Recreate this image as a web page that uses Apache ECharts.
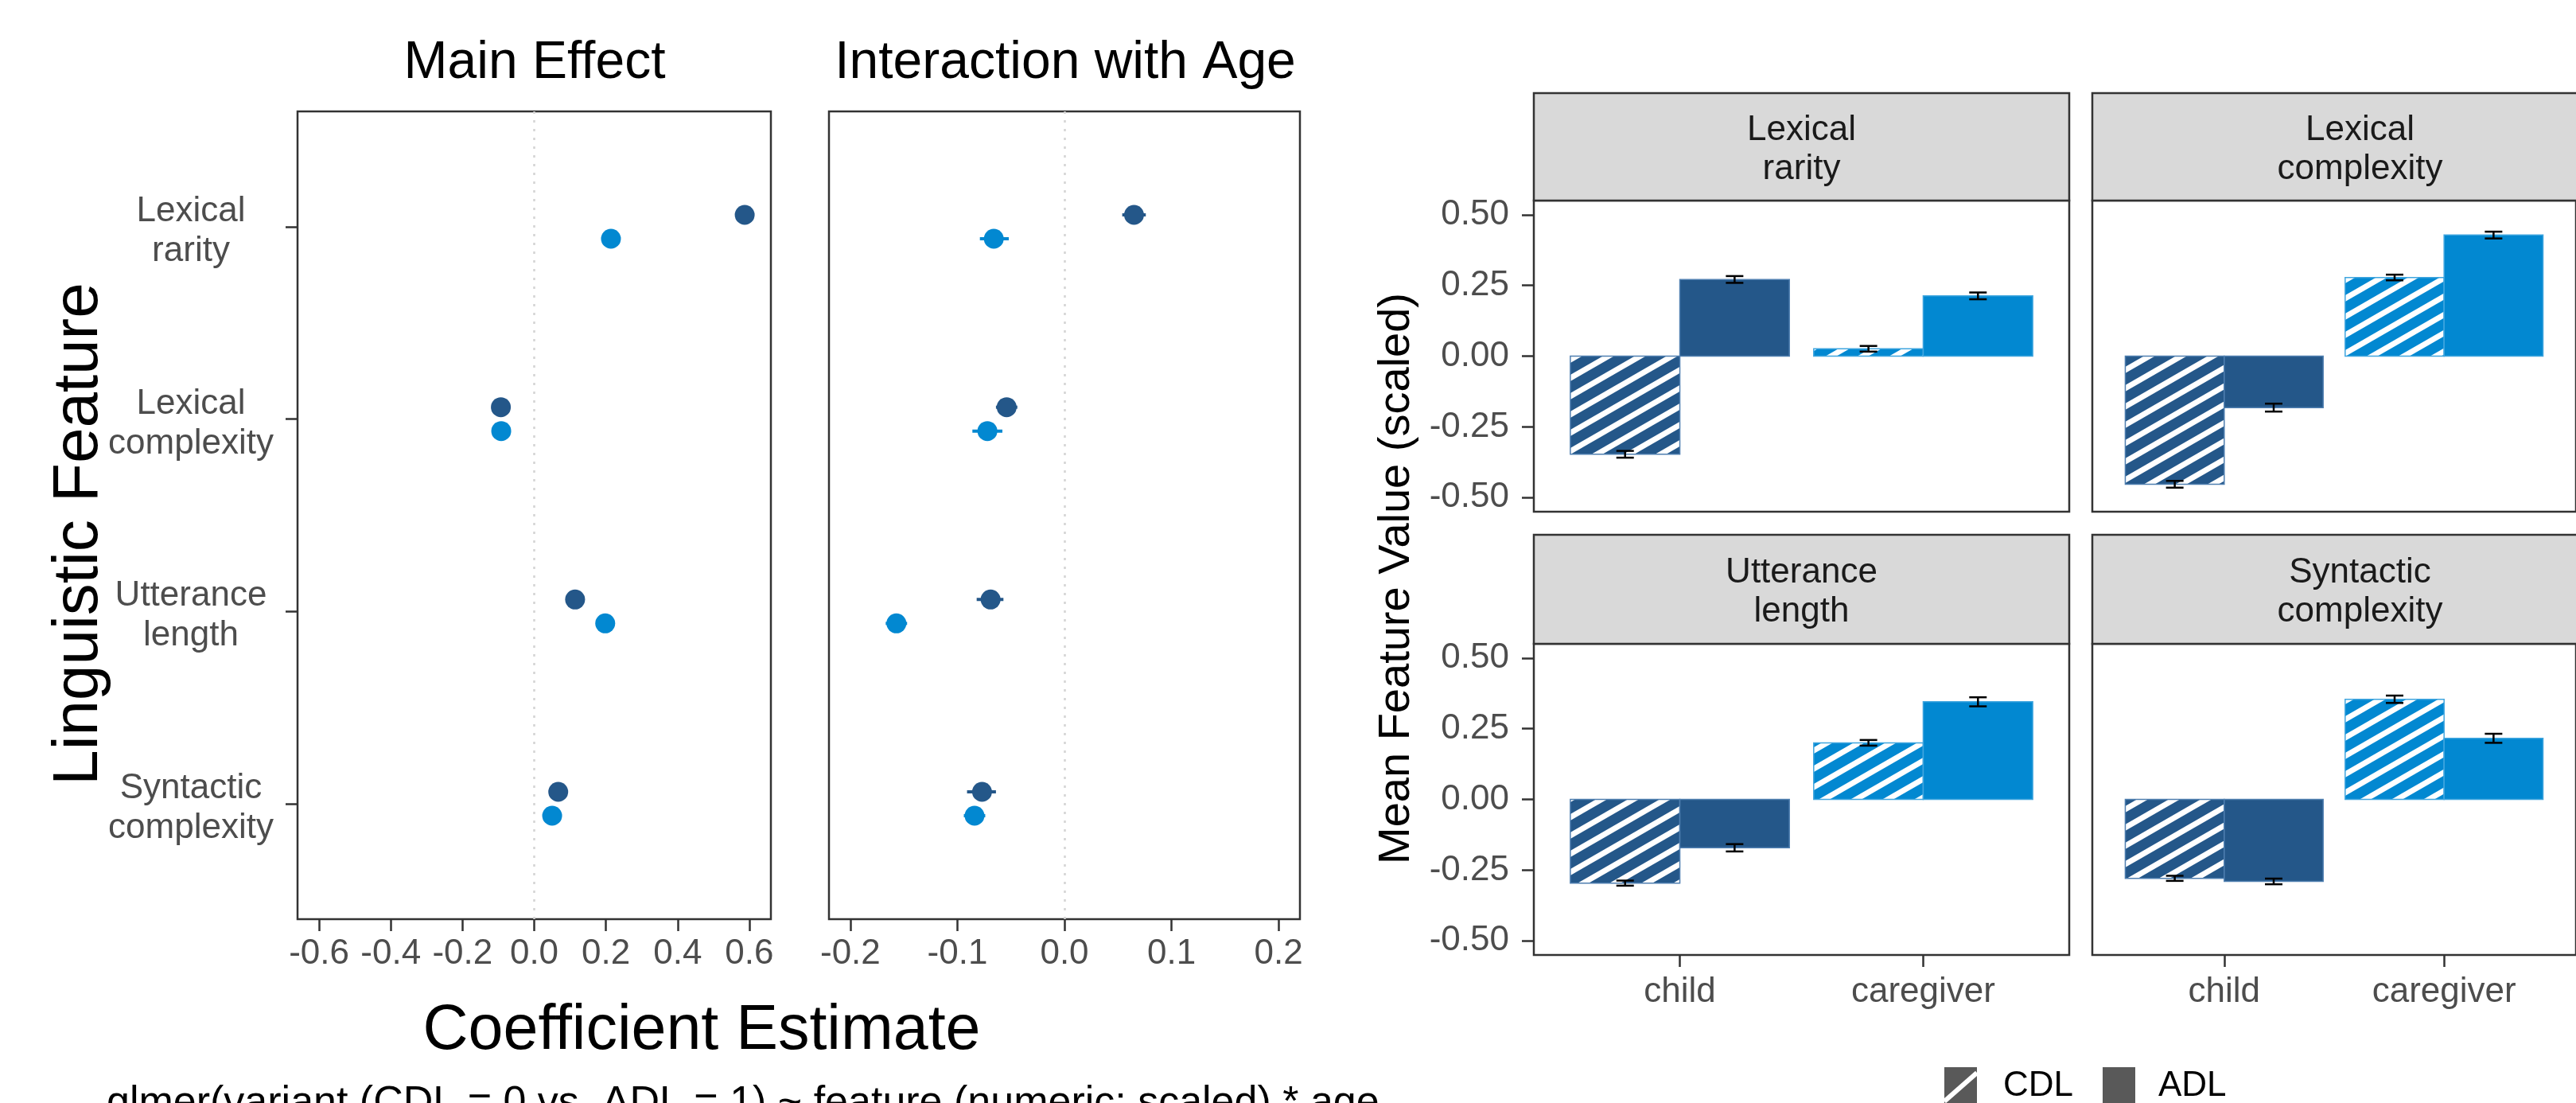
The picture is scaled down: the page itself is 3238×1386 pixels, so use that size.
<!DOCTYPE html>
<html>
<head>
<meta charset="utf-8">
<script src="https://cdn.jsdelivr.net/npm/echarts@6/dist/echarts.min.js"></script>
<style>
html, body { margin: 0; padding: 0; background: #fff; }
#main { width: 3238px; height: 1386px; }
</style>
</head>
<body>
<div id="main"></div>
<script>
var FONT = '"Liberation Sans", Arial, Helvetica, sans-serif';
var DARK = '#245789';
var LIGHT = '#0288d1';

// categories
var features = ['Lexical\nrarity', 'Lexical\ncomplexity', 'Utterance\nlength', 'Syntactic\ncomplexity'];
var speakers = ['child', 'caregiver'];
var variants = ['CDL', 'ADL'];

// coefficient estimates: main effect (per feature, top to bottom)
var mainChild = [0.587, -0.093, 0.114, 0.067];
var mainChildLo = [0.579, -0.100, 0.107, 0.060];
var mainChildHi = [0.595, -0.086, 0.121, 0.074];
var mainCare = [0.214, -0.092, 0.198, 0.050];
var mainCareLo = [0.206, -0.099, 0.191, 0.043];
var mainCareHi = [0.222, -0.085, 0.205, 0.057];

// coefficient estimates: interaction with age
var ageChild = [0.065, -0.054, -0.069, -0.077];
var ageChildLo = [0.054, -0.064, -0.082, -0.091];
var ageChildHi = [0.076, -0.044, -0.057, -0.064];
var ageCare = [-0.066, -0.072, -0.157, -0.084];
var ageCareLo = [-0.079, -0.086, -0.167, -0.094];
var ageCareHi = [-0.052, -0.058, -0.147, -0.074];

// mean feature values (scaled) per feature
var childCDL = [-0.347, -0.453, -0.296, -0.279];
var childADL = [0.271, -0.182, -0.171, -0.290];
var careCDL = [0.026, 0.278, 0.200, 0.354];
var careADL = [0.213, 0.428, 0.345, 0.216];
var childCDLse = [0.012, 0.012, 0.009, 0.009];
var childADLse = [0.012, 0.014, 0.013, 0.010];
var careCDLse = [0.010, 0.010, 0.010, 0.013];
var careADLse = [0.012, 0.012, 0.016, 0.016];

// tick labels
var mainTicks = [-0.6, -0.4, -0.2, 0, 0.2, 0.4, 0.6];
var ageTicks = [-0.2, -0.1, 0, 0.1, 0.2];
var barTicks = [-0.5, -0.25, 0, 0.25, 0.5];

var BAR_W = 0.45;
var DODGE_PX = 15;

function makeHatch(bg) {
    var W = 40, H = 23;
    var c = document.createElement('canvas');
    c.width = W; c.height = H;
    var ctx = c.getContext('2d');
    ctx.fillStyle = bg;
    ctx.fillRect(0, 0, W, H);
    ctx.strokeStyle = '#ffffff';
    ctx.lineWidth = 7;
    for (var k = -1; k <= 3; k++) {
        ctx.beginPath();
        ctx.moveTo(k * W + 2 * W, -2 * H);
        ctx.lineTo(k * W - 2 * W, 2 * H);
        ctx.stroke();
    }
    return { image: c, repeat: 'repeat' };
}
var hatch = [makeHatch(DARK), makeHatch(LIGHT)];

var myChart = echarts.init(document.getElementById('main'));

// grids: 0 main effect, 1 interaction, 2..5 facets
var grids = [
    { left: 374, top: 140, width: 595, height: 1015 },
    { left: 1042, top: 140, width: 592, height: 1015 },
    { left: 1928, top: 252, width: 673, height: 391 },
    { left: 2630, top: 252, width: 673, height: 391 },
    { left: 1928, top: 809, width: 673, height: 391 },
    { left: 2630, top: 809, width: 673, height: 391 }
];
grids.forEach(function (g) {
    g.show = true;
    g.borderColor = '#333333';
    g.borderWidth = 2.5;
    g.backgroundColor = '#ffffff';
});

var tickStyle = { color: '#333333', width: 2.5 };
var labelBase = { color: '#4d4d4d', fontSize: 44, fontFamily: FONT };
var noLine = { show: false, onZero: false };

var xAxes = [
    {
        gridIndex: 0, type: 'value', min: -0.66, max: 0.66,
        splitLine: { show: false }, axisLine: noLine,
        axisTick: { show: true, length: 15, lineStyle: tickStyle, customValues: mainTicks },
        axisLabel: Object.assign({ margin: 22, customValues: mainTicks,
            formatter: function (v) { return v.toFixed(1); } }, labelBase)
    },
    {
        gridIndex: 1, type: 'value', min: -0.22, max: 0.22,
        splitLine: { show: false }, axisLine: noLine,
        axisTick: { show: true, length: 15, lineStyle: tickStyle, customValues: ageTicks },
        axisLabel: Object.assign({ margin: 22, customValues: ageTicks,
            formatter: function (v) { return v.toFixed(1); } }, labelBase)
    }
];
var yAxes = [
    {
        gridIndex: 0, type: 'value', inverse: true, min: 0.4, max: 4.6,
        splitLine: { show: false }, axisLine: noLine,
        axisTick: { show: true, length: 15, lineStyle: tickStyle, customValues: [1, 2, 3, 4] },
        axisLabel: Object.assign({ margin: 134, align: 'center', customValues: [1, 2, 3, 4],
            formatter: function (v) {
                var lines = features[Math.round(v) - 1].split('\n');
                return '{p|}\n' + lines.map(function (l) { return '{f|' + l + '}'; }).join('\n');
            },
            rich: {
                p: { height: 12, lineHeight: 12 },
                f: { lineHeight: 50, fontSize: 44, color: '#4d4d4d', fontFamily: FONT }
            } }, labelBase)
    },
    {
        gridIndex: 1, type: 'value', inverse: true, min: 0.4, max: 4.6,
        splitLine: { show: false }, axisLine: noLine,
        axisTick: { show: false }, axisLabel: { show: false }
    }
];
for (var g = 2; g < 6; g++) {
    var bottomRow = g >= 4;
    var leftCol = g % 2 === 0;
    xAxes.push({
        gridIndex: g, type: 'value', min: 0.4, max: 2.6,
        splitLine: { show: false }, axisLine: noLine,
        axisTick: { show: bottomRow, length: 15, lineStyle: tickStyle, customValues: [1, 2] },
        axisLabel: Object.assign({ show: bottomRow, margin: 25, customValues: [1, 2],
            formatter: function (v) { return speakers[Math.round(v) - 1]; } }, labelBase)
    });
    yAxes.push({
        gridIndex: g, type: 'value', min: -0.55, max: 0.55,
        splitLine: { show: false }, axisLine: noLine,
        axisTick: { show: leftCol, length: 15, lineStyle: tickStyle, customValues: barTicks },
        axisLabel: Object.assign({ show: leftCol, margin: 31, customValues: barTicks,
            formatter: function (v) { return v.toFixed(2); } }, labelBase)
    });
}

function coefSeries(gi, est, lo, hi, color, shift, zeroLine) {
    var data = est.map(function (e, i) { return [e, i + 1, lo[i], hi[i]]; });
    var s = {
        type: 'custom',
        xAxisIndex: gi, yAxisIndex: gi,
        data: data,
        z: 3,
        renderItem: function (params, api) {
            var c = api.coord([api.value(0), api.value(1)]);
            var a = api.coord([api.value(2), api.value(1)]);
            var b = api.coord([api.value(3), api.value(1)]);
            var y = c[1] + shift;
            return {
                type: 'group',
                children: [
                    { type: 'line', shape: { x1: a[0], y1: y, x2: b[0], y2: y },
                      style: { stroke: color, lineWidth: 4 } },
                    { type: 'circle', shape: { cx: c[0], cy: y, r: 12.5 },
                      style: { fill: color } }
                ]
            };
        }
    };
    if (zeroLine) {
        s.markLine = {
            silent: true, symbol: ['none', 'none'], label: { show: false },
            lineStyle: { color: '#d4d4d4', type: [3, 8], width: 2.5 },
            data: [{ xAxis: 0 }]
        };
    }
    return s;
}

function renderBar(params, api) {
    var x = api.value(0), val = api.value(1), se = api.value(2);
    var v = api.value(3), s = api.value(4);
    var x0 = v === 0 ? x - BAR_W : x;
    var pA = api.coord([x0, val]);
    var pB = api.coord([x0 + BAR_W, 0]);
    var mid = x0 + BAR_W / 2;
    var eLo = api.coord([mid, val - se]);
    var eHi = api.coord([mid, val + se]);
    var base = s === 0 ? DARK : LIGHT;
    var edge = s === 0 ? '#4f7fb0' : '#40a6df';
    var capW = 11;
    return {
        type: 'group',
        children: [
            { type: 'rect',
              shape: { x: Math.min(pA[0], pB[0]), y: Math.min(pA[1], pB[1]),
                       width: Math.abs(pB[0] - pA[0]), height: Math.abs(pB[1] - pA[1]) },
              style: { fill: v === 0 ? hatch[s] : base, stroke: edge, lineWidth: 1.5 } },
            { type: 'line', shape: { x1: eLo[0], y1: eLo[1], x2: eHi[0], y2: eHi[1] },
              style: { stroke: '#000', lineWidth: 2.5 } },
            { type: 'line', shape: { x1: eLo[0] - capW, y1: eLo[1], x2: eLo[0] + capW, y2: eLo[1] },
              style: { stroke: '#000', lineWidth: 2.5 } },
            { type: 'line', shape: { x1: eHi[0] - capW, y1: eHi[1], x2: eHi[0] + capW, y2: eHi[1] },
              style: { stroke: '#000', lineWidth: 2.5 } }
        ]
    };
}

var series = [
    coefSeries(0, mainChild, mainChildLo, mainChildHi, DARK, -DODGE_PX, true),
    coefSeries(0, mainCare, mainCareLo, mainCareHi, LIGHT, DODGE_PX, false),
    coefSeries(1, ageChild, ageChildLo, ageChildHi, DARK, -DODGE_PX, true),
    coefSeries(1, ageCare, ageCareLo, ageCareHi, LIGHT, DODGE_PX, false)
];

features.forEach(function (f, i) {
    var data = [
        [1, childCDL[i], childCDLse[i], 0, 0],
        [1, childADL[i], childADLse[i], 1, 0],
        [2, careCDL[i], careCDLse[i], 0, 1],
        [2, careADL[i], careADLse[i], 1, 1]
    ];
    series.push({
        type: 'custom',
        xAxisIndex: i + 2, yAxisIndex: i + 2,
        data: data,
        renderItem: renderBar
    });
});

// strips, titles, legend
var graphic = [];
var stripRects = [
    [1928, 117, 673, 135], [2630, 117, 673, 135],
    [1928, 672, 673, 137], [2630, 672, 673, 137]
];
stripRects.forEach(function (r, i) {
    graphic.push({
        type: 'rect', z: 10,
        shape: { x: r[0], y: r[1], width: r[2], height: r[3] },
        style: { fill: '#d9d9d9', stroke: '#333333', lineWidth: 2.5 }
    });
    graphic.push({
        type: 'text', z: 11, x: r[0] + r[2] / 2, y: r[1] + r[3] / 2 + 4,
        style: { text: features[i], fontSize: 44, fontFamily: FONT, fill: '#1a1a1a',
                 align: 'center', verticalAlign: 'middle', lineHeight: 49 }
    });
});

function label(text, x, y, size, rot, align) {
    return {
        type: 'text', z: 11, x: x, y: y, rotation: rot || 0,
        style: { text: text, fontSize: size, fontFamily: FONT, fill: '#000000',
                 align: align || 'center', verticalAlign: 'middle' }
    };
}
graphic.push(label('Main Effect', 672, 80, 66));
graphic.push(label('Interaction with Age', 1339, 80, 66));
graphic.push(label('Coefficient Estimate', 882, 1296, 79));
graphic.push(label('Linguistic Feature', 100, 671, 80, Math.PI / 2));
graphic.push(label('Mean Feature Value (scaled)', 1756, 727, 56, Math.PI / 2));
graphic.push(label('glmer(variant (CDL = 0 vs. ADL = 1) ~ feature (numeric; scaled) * age', 134, 1387, 52, 0, 'left'));

// legend keys
graphic.push({ type: 'rect', z: 11, shape: { x: 2444, y: 1341, width: 41, height: 45 },
               style: { fill: '#595959' } });
graphic.push({ type: 'line', z: 12, shape: { x1: 2444, y1: 1384, x2: 2485, y2: 1348 },
               style: { stroke: '#ffffff', lineWidth: 6 } });
graphic.push({ type: 'rect', z: 11, shape: { x: 2643, y: 1341, width: 41, height: 45 },
               style: { fill: '#595959' } });
graphic.push(label(variants[0], 2518, 1365, 44, 0, 'left'));
graphic.push(label(variants[1], 2713, 1365, 44, 0, 'left'));

var option = {
    animation: false,
    backgroundColor: '#ffffff',
    textStyle: { fontFamily: FONT },
    grid: grids,
    xAxis: xAxes,
    yAxis: yAxes,
    series: series,
    graphic: graphic
};

myChart.setOption(option);
</script>
</body>
</html>
